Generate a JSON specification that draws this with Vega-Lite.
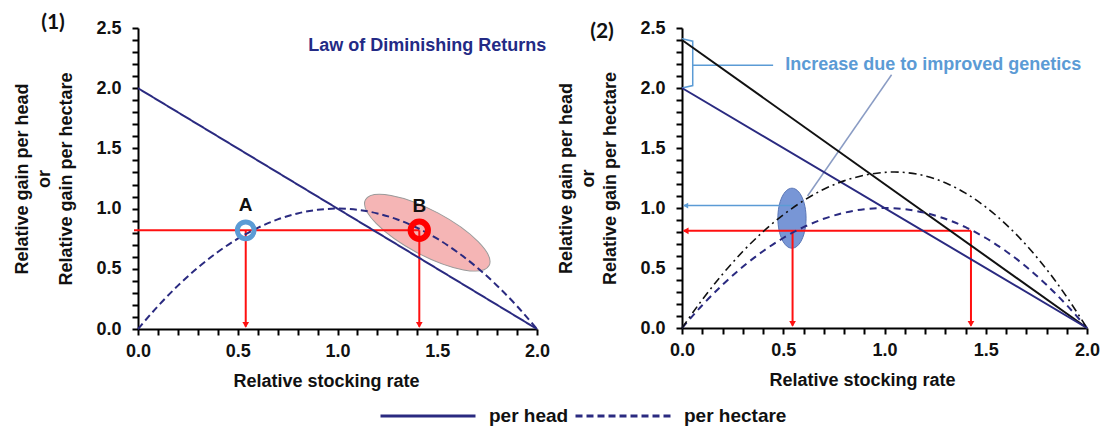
{
  "$schema": "https://vega.github.io/schema/vega-lite/v6.json",
  "padding": {"left": 13, "top": 12, "right": 0, "bottom": 0},
  "background": "white",
  "bounds": "flush",
  "spacing": 145,
  "config": {
    "view": {"stroke": null},
    "axis": {
      "domainColor": "black", "domainWidth": 2,
      "ticks": true, "tickSize": 6, "tickWidth": 2, "tickColor": "black",
      "labelFont": "Liberation Sans", "labelFontWeight": "bold", "labelFontSize": 18, "labelColor": "#111",
      "titleFont": "Liberation Sans", "titleFontWeight": "bold", "titleFontSize": 18, "titleColor": "#111",
      "grid": false, "labelFlush": false, "labelOverlap": false
    },
    "axisX": {"labelPadding": 7, "titlePadding": 12},
    "axisY": {"labelPadding": 11, "titlePadding": 20, "titleLineHeight": 22}
  },
  "hconcat": [
    {
      "width": 399,
      "height": 301,
      "encoding": {
        "x": {"field": "x", "type": "quantitative",
          "scale": {"domain": [0, 2], "nice": false, "zero": false},
          "axis": {"title": "Relative stocking rate", "titleX": 188,
            "values": [0,0.1,0.2,0.3,0.4,0.5,0.6,0.7,0.8,0.9,1,1.1,1.2,1.3,1.4,1.5,1.6,1.7,1.8,1.9,2],
            "labelExpr": "round(datum.value*10) % 5 === 0 ? format(datum.value, '.1f') : ''"}},
        "y": {"field": "y", "type": "quantitative",
          "scale": {"domain": [0, 2.5], "nice": false, "zero": false},
          "axis": {"title": ["Relative gain per head", "or", "Relative gain per hectare"],
            "values": [0,0.1,0.2,0.3,0.4,0.5,0.6,0.7,0.8,0.9,1,1.1,1.2,1.3,1.4,1.5,1.6,1.7,1.8,1.9,2,2.1,2.2,2.3,2.4,2.5],
            "labelExpr": "round(datum.value*10) % 5 === 0 ? format(datum.value, '.1f') : ''"}}
      },
      "layer": [
        {
          "data": {"values": [{"x": 1.45, "y": 0.8}]},
          "mark": {"type": "point", "filled": true, "fill": "#f5b5b5", "fillOpacity": 1, "stroke": "#9a9a9a", "strokeWidth": 1, "size": 19600, "angle": 28,
            "shape": "M 1 0 C 1 0.177 0.552 0.32 0 0.32 C -0.552 0.32 -1 0.177 -1 0 C -1 -0.177 -0.552 -0.32 0 -0.32 C 0.552 -0.32 1 -0.177 1 0 Z"}
        },
        {
          "data": {"values": [
            {"x": -0.02, "y": 0.82, "x2": 1.41, "y2": 0.82},
            {"x": 0.54, "y": 0.82, "x2": 0.54, "y2": 0.02},
            {"x": 1.41, "y": 0.82, "x2": 1.41, "y2": 0.02}
          ]},
          "mark": {"type": "rule", "color": "#ff1010", "strokeWidth": 2},
          "encoding": {"x2": {"field": "x2"}, "y2": {"field": "y2"}}
        },
        {
          "data": {"values": [{"x": 0.54, "y": 0.035}, {"x": 1.41, "y": 0.035}]},
          "mark": {"type": "point", "shape": "triangle-down", "filled": true, "color": "#ff1010", "size": 45, "opacity": 1}
        },
        {
          "data": {"values": [{"x": 0, "y": 2, "kind": "per head"}, {"x": 2, "y": 0, "kind": "per head"}]},
          "mark": {"type": "line", "color": "#2a2a80", "strokeWidth": 2},
          "encoding": {
            "strokeDash": {"field": "kind", "type": "nominal",
              "scale": {"domain": ["per head", "per hectare"], "range": [[1, 0], [7, 4]]},
              "legend": {"orient": "none", "legendX": 241, "legendY": 377, "direction": "horizontal", "title": null,
                "symbolType": "stroke", "symbolSize": 9025, "symbolStrokeWidth": 3, "symbolStrokeColor": "black",
                "clipHeight": 22, "labelFontSize": 19, "labelFont": "Liberation Sans", "labelFontWeight": "bold",
                "labelColor": "#111", "labelOffset": 12, "columnPadding": 5}}
          }
        },
        {
          "data": {"values": [
            {"x": 0, "y": 0, "kind": "per hectare"}, {"x": 0.1, "y": 0.19, "kind": "per hectare"},
            {"x": 0.2, "y": 0.36, "kind": "per hectare"}, {"x": 0.3, "y": 0.51, "kind": "per hectare"},
            {"x": 0.4, "y": 0.64, "kind": "per hectare"}, {"x": 0.5, "y": 0.75, "kind": "per hectare"},
            {"x": 0.6, "y": 0.84, "kind": "per hectare"}, {"x": 0.7, "y": 0.91, "kind": "per hectare"},
            {"x": 0.8, "y": 0.96, "kind": "per hectare"}, {"x": 0.9, "y": 0.99, "kind": "per hectare"},
            {"x": 1.0, "y": 1.0, "kind": "per hectare"}, {"x": 1.1, "y": 0.99, "kind": "per hectare"},
            {"x": 1.2, "y": 0.96, "kind": "per hectare"}, {"x": 1.3, "y": 0.91, "kind": "per hectare"},
            {"x": 1.4, "y": 0.84, "kind": "per hectare"}, {"x": 1.5, "y": 0.75, "kind": "per hectare"},
            {"x": 1.6, "y": 0.64, "kind": "per hectare"}, {"x": 1.7, "y": 0.51, "kind": "per hectare"},
            {"x": 1.8, "y": 0.36, "kind": "per hectare"}, {"x": 1.9, "y": 0.19, "kind": "per hectare"},
            {"x": 2.0, "y": 0, "kind": "per hectare"}
          ]},
          "mark": {"type": "line", "color": "#2a2a80", "strokeWidth": 2, "interpolate": "monotone"},
          "encoding": {"strokeDash": {"field": "kind", "type": "nominal"}}
        },
        {
          "data": {"values": [{"x": 0.54, "y": 0.82}]},
          "mark": {"type": "point", "filled": false, "stroke": "#5b9bd5", "strokeWidth": 5, "size": 280, "opacity": 1}
        },
        {
          "data": {"values": [{"x": 1.41, "y": 0.82}]},
          "mark": {"type": "point", "filled": false, "stroke": "#ff0000", "strokeWidth": 6, "size": 300, "opacity": 1}
        },
        {
          "data": {"values": [{"x": 0.54, "y": 1.03, "label": "A"}, {"x": 1.41, "y": 1.02, "label": "B"}]},
          "mark": {"type": "text", "font": "Liberation Sans", "fontWeight": "bold", "fontSize": 19, "color": "#111", "baseline": "middle"},
          "encoding": {"text": {"field": "label"}}
        },
        {
          "data": {"values": [{"x": 1.45, "y": 2.35, "label": "Law of Diminishing Returns"}]},
          "mark": {"type": "text", "font": "Liberation Sans", "fontWeight": "bold", "fontSize": 18, "color": "#232a85", "baseline": "middle"},
          "encoding": {"text": {"field": "label"}}
        },
        {
          "data": {"values": [{"x": -0.426, "y": 2.54, "label": "(1)"}]},
          "mark": {"type": "text", "font": "Lato", "fontWeight": "bold", "fontSize": 21, "color": "#111", "baseline": "middle"},
          "encoding": {"text": {"field": "label"}}
        }
      ]
    },
    {
      "width": 405,
      "height": 300,
      "encoding": {
        "x": {"field": "x", "type": "quantitative",
          "scale": {"domain": [0, 2], "nice": false, "zero": false},
          "axis": {"title": "Relative stocking rate", "titleX": 180,
            "values": [0,0.1,0.2,0.3,0.4,0.5,0.6,0.7,0.8,0.9,1,1.1,1.2,1.3,1.4,1.5,1.6,1.7,1.8,1.9,2],
            "labelExpr": "round(datum.value*10) % 5 === 0 ? format(datum.value, '.1f') : ''"}},
        "y": {"field": "y", "type": "quantitative",
          "scale": {"domain": [0, 2.5], "nice": false, "zero": false},
          "axis": {"title": ["Relative gain per head", "or", "Relative gain per hectare"],
            "values": [0,0.1,0.2,0.3,0.4,0.5,0.6,0.7,0.8,0.9,1,1.1,1.2,1.3,1.4,1.5,1.6,1.7,1.8,1.9,2,2.1,2.2,2.3,2.4,2.5],
            "labelExpr": "round(datum.value*10) % 5 === 0 ? format(datum.value, '.1f') : ''"}}
      },
      "layer": [
        {
          "data": {"values": [{"x": 0.543, "y": 0.915}]},
          "mark": {"type": "point", "filled": true, "fill": "#7896d6", "fillOpacity": 1, "stroke": "#5a76b6", "strokeWidth": 1, "size": 3600,
            "shape": "M 0.47 0 C 0.47 0.552 0.26 1 0 1 C -0.26 1 -0.47 0.552 -0.47 0 C -0.47 -0.552 -0.26 -1 0 -1 C 0.26 -1 0.47 -0.552 0.47 0 Z"}
        },
        {
          "data": {"values": [
            {"x": 0.01, "y": 0.81, "x2": 1.427, "y2": 0.81},
            {"x": 0.546, "y": 0.81, "x2": 0.546, "y2": 0.02},
            {"x": 1.427, "y": 0.81, "x2": 1.427, "y2": 0.02}
          ]},
          "mark": {"type": "rule", "color": "#ff1010", "strokeWidth": 2},
          "encoding": {"x2": {"field": "x2"}, "y2": {"field": "y2"}}
        },
        {
          "data": {"values": [{"x": 0.546, "y": 0.035}, {"x": 1.427, "y": 0.035}]},
          "mark": {"type": "point", "shape": "triangle-down", "filled": true, "color": "#ff1010", "size": 45, "opacity": 1}
        },
        {
          "data": {"values": [{"x": 0.018, "y": 0.81}]},
          "mark": {"type": "point", "shape": "triangle-left", "filled": true, "color": "#ff1010", "size": 45, "opacity": 1}
        },
        {
          "data": {"values": [{"x": 0.55, "y": 1.02, "x2": 0.01, "y2": 1.02}]},
          "mark": {"type": "rule", "color": "#5b9bd5", "strokeWidth": 1.5},
          "encoding": {"x2": {"field": "x2"}, "y2": {"field": "y2"}}
        },
        {
          "data": {"values": [{"x": 0.018, "y": 1.02}]},
          "mark": {"type": "point", "shape": "triangle-left", "filled": true, "color": "#5b9bd5", "size": 35, "opacity": 1}
        },
        {
          "data": {"values": [
            {"x": 0.0, "y": 2.41, "i": 1}, {"x": 0.053, "y": 2.39, "i": 2},
            {"x": 0.053, "y": 2.02, "i": 3}, {"x": 0.0, "y": 2.0, "i": 4}
          ]},
          "mark": {"type": "line", "color": "#5b9bd5", "strokeWidth": 1.5},
          "encoding": {"order": {"field": "i", "type": "quantitative"}}
        },
        {
          "data": {"values": [{"x": 0.053, "y": 2.19, "x2": 0.45, "y2": 2.19}]},
          "mark": {"type": "rule", "color": "#5b9bd5", "strokeWidth": 1.5},
          "encoding": {"x2": {"field": "x2"}, "y2": {"field": "y2"}}
        },
        {
          "data": {"values": [{"x": 1.035, "y": 2.11, "x2": 0.62, "y2": 1.1}]},
          "mark": {"type": "rule", "color": "#8a9cc4", "strokeWidth": 1.5},
          "encoding": {"x2": {"field": "x2"}, "y2": {"field": "y2"}}
        },
        {
          "data": {"values": [{"x": 0, "y": 2.4}, {"x": 2, "y": 0}]},
          "mark": {"type": "line", "color": "#111111", "strokeWidth": 2}
        },
        {
          "data": {"values": [{"x": 0, "y": 2}, {"x": 2, "y": 0}]},
          "mark": {"type": "line", "color": "#2a2a80", "strokeWidth": 2}
        },
        {
          "data": {"values": [
            {"x": 0, "y": 0}, {"x": 0.1, "y": 0.19}, {"x": 0.2, "y": 0.36}, {"x": 0.3, "y": 0.51},
            {"x": 0.4, "y": 0.64}, {"x": 0.5, "y": 0.75}, {"x": 0.6, "y": 0.84}, {"x": 0.7, "y": 0.91},
            {"x": 0.8, "y": 0.96}, {"x": 0.9, "y": 0.99}, {"x": 1.0, "y": 1.0}, {"x": 1.1, "y": 0.99},
            {"x": 1.2, "y": 0.96}, {"x": 1.3, "y": 0.91}, {"x": 1.4, "y": 0.84}, {"x": 1.5, "y": 0.75},
            {"x": 1.6, "y": 0.64}, {"x": 1.7, "y": 0.51}, {"x": 1.8, "y": 0.36}, {"x": 1.9, "y": 0.19},
            {"x": 2.0, "y": 0}
          ]},
          "mark": {"type": "line", "color": "#2a2a80", "strokeWidth": 2, "strokeDash": [7, 5], "interpolate": "monotone"}
        },
        {
          "data": {"values": [
            {"x": 0, "y": 0}, {"x": 0.1, "y": 0.236}, {"x": 0.2, "y": 0.448}, {"x": 0.3, "y": 0.637},
            {"x": 0.4, "y": 0.802}, {"x": 0.5, "y": 0.943}, {"x": 0.6, "y": 1.061}, {"x": 0.7, "y": 1.156},
            {"x": 0.8, "y": 1.226}, {"x": 0.9, "y": 1.273}, {"x": 1.0, "y": 1.297}, {"x": 1.05, "y": 1.3},
            {"x": 1.1, "y": 1.296}, {"x": 1.2, "y": 1.268}, {"x": 1.3, "y": 1.21}, {"x": 1.4, "y": 1.124},
            {"x": 1.5, "y": 1.008}, {"x": 1.6, "y": 0.864}, {"x": 1.7, "y": 0.691}, {"x": 1.8, "y": 0.49},
            {"x": 1.9, "y": 0.259}, {"x": 2.0, "y": 0}
          ]},
          "mark": {"type": "line", "color": "#111111", "strokeWidth": 1.6, "strokeDash": [8, 4, 2, 4], "interpolate": "monotone"}
        },
        {
          "data": {"values": [{"x": 0.51, "y": 2.19, "label": "Increase due to improved genetics"}]},
          "mark": {"type": "text", "font": "Liberation Sans", "fontWeight": "bold", "fontSize": 18, "color": "#5b9bd5", "align": "left", "baseline": "middle"},
          "encoding": {"text": {"field": "label"}}
        },
        {
          "data": {"values": [{"x": -0.395, "y": 2.47, "label": "(2)"}]},
          "mark": {"type": "text", "font": "Lato", "fontWeight": "bold", "fontSize": 21, "color": "#111", "baseline": "middle"},
          "encoding": {"text": {"field": "label"}}
        }
      ]
    }
  ]
}
